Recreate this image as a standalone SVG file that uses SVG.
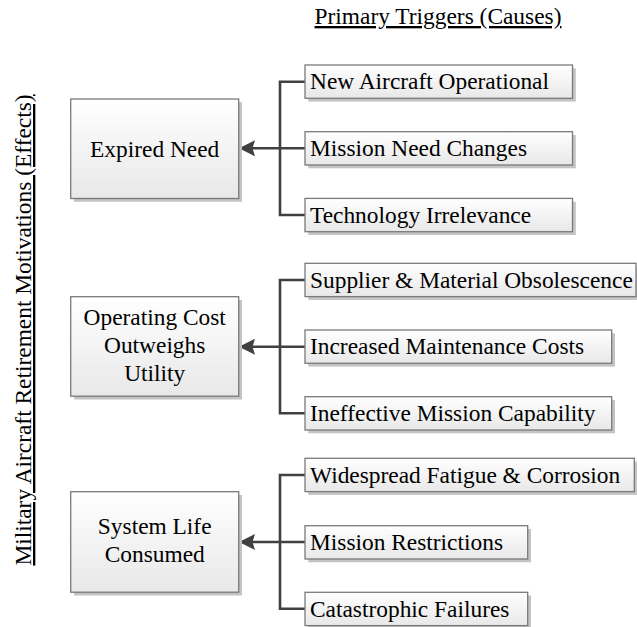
<svg xmlns="http://www.w3.org/2000/svg" width="637" height="627" viewBox="0 0 637 627">
  <defs>
    <linearGradient id="boxfill" x1="0" y1="0" x2="0" y2="1">
      <stop offset="0" stop-color="#ffffff"/>
      <stop offset="1" stop-color="#e8e8e8"/>
    </linearGradient>
    <marker id="arrow" viewBox="0 0 16 16" refX="13" refY="8" markerWidth="16" markerHeight="16" markerUnits="userSpaceOnUse" orient="auto">
      <path d="M0,0 L16,8 L0,16 L2.5,8 z" fill="#404040"/>
    </marker>
  </defs>
  <style>
    text { font-family: "Liberation Serif", "Times New Roman", serif; font-size: 23.4px; fill: #000; }
    .box { fill: url(#boxfill); stroke: #7a7a7a; stroke-width: 1.3; }
    .shadow { fill: #c4c4c4; }
    .conn { fill: none; stroke: #404040; stroke-width: 2.6; }
    .title { text-decoration: underline; }
    .mid { text-anchor: middle; }
  </style>
  <rect width="637" height="627" fill="#ffffff"/>

  <text class="title mid" x="438" y="24">Primary Triggers (Causes)</text>
  <text class="title mid" x="31" y="330" transform="rotate(-90 31 330)">Military Aircraft Retirement Motivations (Effects)</text>

  <g id="connectors">
    <path class="conn" d="M305 81.7 H280 V215 H305 M280 148.3 H305"/>
    <path class="conn" d="M280 148.3 H242" marker-end="url(#arrow)"/>
    <path class="conn" d="M305 280 H280 V413.3 H305 M280 346.7 H305"/>
    <path class="conn" d="M280 346.7 H242" marker-end="url(#arrow)"/>
    <path class="conn" d="M305 475 H280 V608.7 H305 M280 542 H305"/>
    <path class="conn" d="M280 542 H242" marker-end="url(#arrow)"/>
  </g>

  <g id="expired-need">
    <rect class="shadow" x="74" y="102.3" width="168" height="99.5"/>
    <rect class="box" x="70.7" y="99" width="168" height="99.5"/>
    <text class="mid" x="154.7" y="156.6">Expired Need</text>
  </g>
  <g id="new-aircraft">
    <rect class="shadow" x="308.3" y="68.3" width="267.5" height="33.3"/>
    <rect class="box" x="305" y="65" width="267.5" height="33.3"/>
    <text x="310" y="89.3">New Aircraft Operational</text>
  </g>
  <g id="mission-need">
    <rect class="shadow" x="308.3" y="135" width="267.5" height="33.3"/>
    <rect class="box" x="305" y="131.7" width="267.5" height="33.3"/>
    <text x="310" y="156">Mission Need Changes</text>
  </g>
  <g id="technology">
    <rect class="shadow" x="308.3" y="201.7" width="267.5" height="33.3"/>
    <rect class="box" x="305" y="198.4" width="267.5" height="33.3"/>
    <text x="310" y="222.7">Technology Irrelevance</text>
  </g>

  <g id="operating-cost">
    <rect class="shadow" x="74" y="300" width="168" height="99.5"/>
    <rect class="box" x="70.7" y="296.7" width="168" height="99.5"/>
    <text class="mid" x="154.7" y="325.3">Operating Cost</text>
    <text class="mid" x="154.7" y="353.3">Outweighs</text>
    <text class="mid" x="154.7" y="381.3">Utility</text>
  </g>
  <g id="supplier">
    <rect class="shadow" x="308.3" y="266.6" width="331" height="33.3"/>
    <rect class="box" x="305" y="263.3" width="331" height="33.3"/>
    <text x="310" y="287.6">Supplier &amp; Material Obsolescence</text>
  </g>
  <g id="maintenance">
    <rect class="shadow" x="308.3" y="333.3" width="306.7" height="33.3"/>
    <rect class="box" x="305" y="330" width="306.7" height="33.3"/>
    <text x="310" y="354.3">Increased Maintenance Costs</text>
  </g>
  <g id="ineffective">
    <rect class="shadow" x="308.3" y="400" width="306.7" height="33.3"/>
    <rect class="box" x="305" y="396.7" width="306.7" height="33.3"/>
    <text x="310" y="421">Ineffective Mission Capability</text>
  </g>

  <g id="system-life">
    <rect class="shadow" x="74" y="495" width="168" height="100.5"/>
    <rect class="box" x="70.7" y="491.7" width="168" height="100.5"/>
    <text class="mid" x="154.7" y="534.3">System Life</text>
    <text class="mid" x="154.7" y="562.3">Consumed</text>
  </g>
  <g id="fatigue">
    <rect class="shadow" x="308.3" y="461.6" width="329.3" height="33.3"/>
    <rect class="box" x="305" y="458.3" width="329.3" height="33.3"/>
    <text x="310" y="482.6">Widespread Fatigue &amp; Corrosion</text>
  </g>
  <g id="restrictions">
    <rect class="shadow" x="308.3" y="529" width="222.7" height="33.3"/>
    <rect class="box" x="305" y="525.7" width="222.7" height="33.3"/>
    <text x="310" y="550">Mission Restrictions</text>
  </g>
  <g id="catastrophic">
    <rect class="shadow" x="308.3" y="595.6" width="222.7" height="33.3"/>
    <rect class="box" x="305" y="592.3" width="222.7" height="33.3"/>
    <text x="310" y="616.6">Catastrophic Failures</text>
  </g>
</svg>
